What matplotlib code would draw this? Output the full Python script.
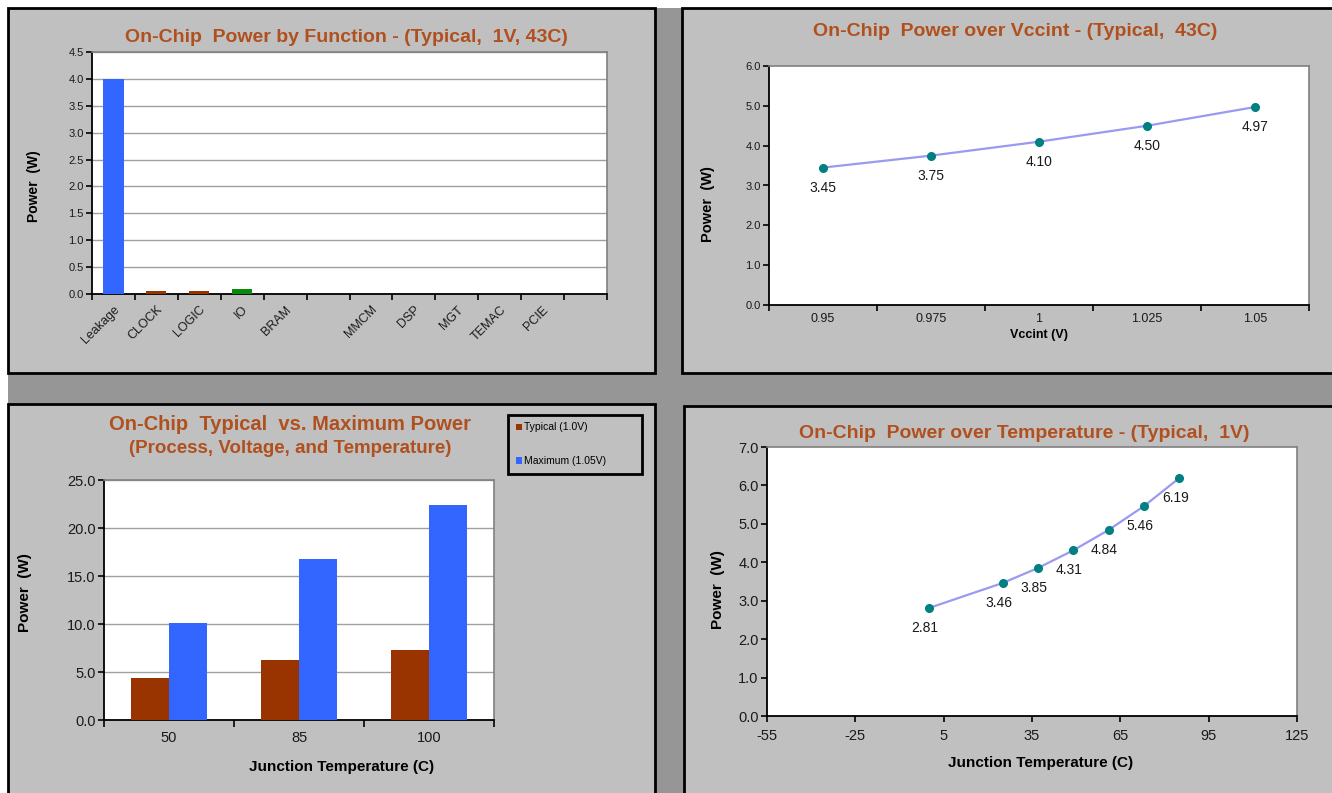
import matplotlib
matplotlib.use('Agg')
import matplotlib.pyplot as plt
from matplotlib.patches import Rectangle
from matplotlib.ticker import FormatStrFormatter
import numpy as np

plt.rcParams['font.family'] = ['Liberation Sans', 'DejaVu Sans']
plt.rcParams['axes.unicode_minus'] = False

# ---------------- data ----------------
func_labels = ['Leakage', 'CLOCK', 'LOGIC', 'IO', 'BRAM', '', 'MMCM', 'DSP', 'MGT', 'TEMAC', 'PCIE', '']
func_values = [4.00, 0.05, 0.05, 0.09, 0, 0, 0, 0, 0, 0, 0, 0]
func_colors = ['#3366FF', '#993300', '#993300', '#0A8A0A', '#993300', '#993300',
               '#993300', '#993300', '#993300', '#993300', '#993300', '#993300']

vcc_labels = ['0.95', '0.975', '1', '1.025', '1.05']
vcc_power = [3.45, 3.75, 4.10, 4.50, 4.97]

pvt_temps = ['50', '85', '100']
pvt_typical = [4.4, 6.3, 7.3]
pvt_maximum = [10.1, 16.8, 22.4]
pvt_series = ['Typical (1.0V)', 'Maximum (1.05V)']

temp_x = [0, 25, 37, 49, 61, 73, 85]
temp_power = [2.81, 3.46, 3.85, 4.31, 4.84, 5.46, 6.19]

# ---------------- styles ----------------
W, H = 1332, 793
TITLE_C = '#B0501E'
PANEL_C = '#C0C0C0'
GAP_C = '#969696'
GRID_C = '#A0A0A0'
LINE_C = '#9A9AF0'
MARK_C = '#008080'
TXT_C = '#1A1A1A'

fig = plt.figure(figsize=(W / 100, H / 100), dpi=100)
fig.patch.set_facecolor('white')


def box(x0, y0, x1, y1):
    return [x0 / W, 1 - y1 / H, (x1 - x0) / W, (y1 - y0) / H]


def rect(x0, y0, x1, y1, fc, ec='none', lw=0, z=-5):
    r = Rectangle((x0 / W, 1 - y1 / H), (x1 - x0) / W, (y1 - y0) / H,
                  transform=fig.transFigure, facecolor=fc, edgecolor=ec,
                  linewidth=lw, zorder=z)
    fig.add_artist(r)


def ftext(x, y, s, **kw):
    fig.text(x / W, 1 - y / H, s, **kw)


def style_axes(ax):
    ax.set_facecolor('white')
    for s in ['left', 'bottom']:
        ax.spines[s].set_color('black')
        ax.spines[s].set_linewidth(1.3)
    for s in ['top', 'right']:
        ax.spines[s].set_color('#808080')
        ax.spines[s].set_linewidth(1.2)


rect(8, 8, 1340, 800, GAP_C, z=-6)
rect(8, 8, 655, 373, PANEL_C, ec='black', lw=2)
rect(682, 8, 1345, 373, PANEL_C, ec='black', lw=2)
rect(8, 404, 655, 800, PANEL_C, ec='black', lw=2)
rect(684, 406, 1345, 800, PANEL_C, ec='black', lw=2)

# ---------------- chart 1 ----------------
ax1 = fig.add_axes(box(92, 52, 607, 294))
style_axes(ax1)
xpos = np.arange(len(func_labels))
ax1.bar(xpos, func_values, width=0.47, color=func_colors, edgecolor='none', zorder=3)
ax1.set_xlim(-0.5, len(func_labels) - 0.5)
ax1.set_ylim(0, 4.5)
ax1.set_yticks(np.arange(0, 4.51, 0.5))
ax1.yaxis.set_major_formatter(FormatStrFormatter('%.1f'))
ax1.yaxis.grid(True, color=GRID_C, linewidth=1)
ax1.set_axisbelow(True)
ax1.set_xticks(np.arange(-0.5, len(func_labels), 1))
ax1.set_xticklabels([])
ax1.set_xticks(xpos, minor=True)
ax1.set_xticklabels(func_labels, minor=True, rotation=45, ha='right',
                    rotation_mode='anchor', fontsize=9, color=TXT_C)
ax1.tick_params(axis='x', which='minor', length=0, pad=7)
ax1.tick_params(axis='x', which='major', length=4, width=1.2, direction='out')
ax1.tick_params(axis='y', length=4, width=1.2, labelsize=8, pad=2, labelcolor=TXT_C)
ftext(346, 37, 'On-Chip  Power by Function - (Typical,  1V, 43C)', ha='center', va='center',
      fontsize=14, fontweight='bold', color=TITLE_C)
ftext(34, 186, 'Power  (W)', rotation=90, ha='center', va='center', fontsize=10,
      fontweight='bold')

# ---------------- chart 2 ----------------
ax2 = fig.add_axes(box(769, 66, 1309, 305))
style_axes(ax2)
vx = np.arange(len(vcc_labels))
ax2.plot(vx, vcc_power, color=LINE_C, linewidth=1.6, zorder=3)
ax2.plot(vx, vcc_power, linestyle='none', marker='o', markersize=5.5,
         color=MARK_C, zorder=4)
for xi, v in zip(vx, vcc_power):
    ax2.annotate(f'{v:.2f}', (xi, v), xytext=(0, -20), textcoords='offset pixels',
                 ha='center', va='center', fontsize=10, color=TXT_C)
ax2.set_xlim(-0.5, len(vcc_labels) - 0.5)
ax2.set_ylim(0, 6)
ax2.set_yticks(np.arange(0, 6.01, 1))
ax2.yaxis.set_major_formatter(FormatStrFormatter('%.1f'))
ax2.set_xticks(np.arange(-0.5, len(vcc_labels), 1))
ax2.set_xticklabels([])
ax2.set_xticks(vx, minor=True)
ax2.set_xticklabels(vcc_labels, minor=True, fontsize=9, color=TXT_C)
ax2.tick_params(axis='x', which='minor', length=0, pad=6)
ax2.tick_params(axis='x', which='major', length=4, width=1.2)
ax2.tick_params(axis='y', length=4, width=1.2, labelsize=8, pad=2, labelcolor=TXT_C)
ftext(1015, 31, 'On-Chip  Power over Vccint - (Typical,  43C)', ha='center', va='center',
      fontsize=14, fontweight='bold', color=TITLE_C)
ftext(708, 204, 'Power  (W)', rotation=90, ha='center', va='center', fontsize=10.5,
      fontweight='bold')
ftext(1039, 335, 'Vccint (V)', ha='center', va='center', fontsize=9, fontweight='bold')

# ---------------- chart 3 ----------------
ax3 = fig.add_axes(box(104, 480, 494, 720))
style_axes(ax3)
tx = np.arange(len(pvt_temps))
bw = 0.29
b1 = ax3.bar(tx - bw / 2, pvt_typical, width=bw, color='#993300', zorder=3,
             label=pvt_series[0])
b2 = ax3.bar(tx + bw / 2, pvt_maximum, width=bw, color='#3366FF', zorder=3,
             label=pvt_series[1])
ax3.set_xlim(-0.5, len(pvt_temps) - 0.5)
ax3.set_ylim(0, 25)
ax3.set_yticks(np.arange(0, 25.01, 5))
ax3.yaxis.set_major_formatter(FormatStrFormatter('%.1f'))
ax3.yaxis.grid(True, color=GRID_C, linewidth=1)
ax3.set_axisbelow(True)
ax3.set_xticks(np.arange(-0.5, len(pvt_temps), 1))
ax3.set_xticklabels([])
ax3.set_xticks(tx, minor=True)
ax3.set_xticklabels(pvt_temps, minor=True, fontsize=10.5, color=TXT_C)
ax3.tick_params(axis='x', which='minor', length=0, pad=8)
ax3.tick_params(axis='x', which='major', length=5, width=1.2)
ax3.tick_params(axis='y', length=4, width=1.2, labelsize=10.5, pad=2, labelcolor=TXT_C)
ftext(290, 425, 'On-Chip  Typical  vs. Maximum Power', ha='center', va='center',
      fontsize=14.5, fontweight='bold', color=TITLE_C)
ftext(290, 448, '(Process, Voltage, and Temperature)', ha='center', va='center',
      fontsize=13.5, fontweight='bold', color=TITLE_C)
ftext(25, 593, 'Power  (W)', rotation=90, ha='center', va='center', fontsize=11,
      fontweight='bold')
ftext(342, 767, 'Junction Temperature (C)', ha='center', va='center', fontsize=11,
      fontweight='bold')
leg = fig.legend(handles=[b1, b2], labels=pvt_series, loc='upper left',
                 bbox_to_anchor=(503 / W, 1 - 472 / H, 144 / W, 62 / H),
                 mode='expand', fontsize=7.5, handlelength=0.6, handleheight=0.6,
                 handletextpad=0.2, labelspacing=2.3, borderpad=0.7,
                 fancybox=False, framealpha=1)
leg.get_frame().set_facecolor(PANEL_C)
leg.get_frame().set_edgecolor('black')
leg.get_frame().set_linewidth(2)

# ---------------- chart 4 ----------------
ax4 = fig.add_axes(box(767, 447, 1297, 716))
style_axes(ax4)
ax4.plot(temp_x, temp_power, color=LINE_C, linewidth=1.6, zorder=3)
ax4.plot(temp_x, temp_power, linestyle='none', marker='o', markersize=5.5,
         color=MARK_C, zorder=4)
for xi, v in zip(temp_x, temp_power):
    ax4.annotate(f'{v:.2f}', (xi, v), xytext=(-4, -20), textcoords='offset pixels',
                 ha='center', va='center', fontsize=10, color=TXT_C)
ax4.set_xlim(-55, 125)
ax4.set_ylim(0, 7)
ax4.set_xticks(np.arange(-55, 125.1, 30))
ax4.set_yticks(np.arange(0, 7.01, 1))
ax4.yaxis.set_major_formatter(FormatStrFormatter('%.1f'))
ax4.tick_params(axis='x', length=4, width=1.2, labelsize=10.5, pad=5, labelcolor=TXT_C)
ax4.tick_params(axis='y', length=4, width=1.2, labelsize=10.5, pad=2, labelcolor=TXT_C)
ftext(1024, 433, 'On-Chip  Power over Temperature - (Typical,  1V)', ha='center',
      va='center', fontsize=14, fontweight='bold', color=TITLE_C)
ftext(718, 590, 'Power  (W)', rotation=90, ha='center', va='center', fontsize=11,
      fontweight='bold')
ftext(1041, 763, 'Junction Temperature (C)', ha='center', va='center', fontsize=11,
      fontweight='bold')

fig.savefig('out.png', dpi=100)
